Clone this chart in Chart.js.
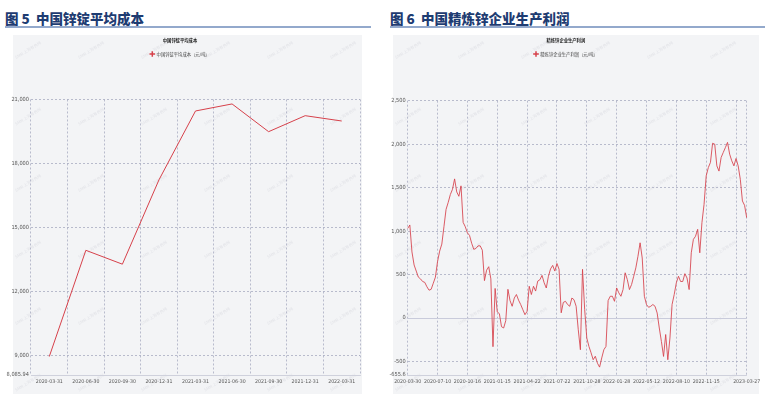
<!DOCTYPE html>
<html>
<head>
<meta charset="utf-8">
<script src="https://cdn.jsdelivr.net/npm/chart.js@4.4.1/dist/chart.umd.min.js"></script>
<style>
  body { margin: 0; width: 777px; height: 394px; position: relative; overflow: hidden; background: #fff; }
  .head { position: absolute; top: 10px; font: 900 13.5px "Noto Sans CJK SC"; line-height: 16px; color: #1e3c72; white-space: pre; }
  .rule { position: absolute; top: 26px; height: 1.5px; background: #93a9cc; }
  .panel { position: absolute; top: 35px; height: 359px; background: #f3f4f6; }
  canvas { position: absolute; top: 35px; }
</style>
</head>
<body>
<div class="head" style="left:5px">图 5  中国锌锭平均成本</div>
<div class="rule" style="left:5px;width:366px"></div>
<div class="head" style="left:390px">图 6  中国精炼锌企业生产利润</div>
<div class="rule" style="left:390px;width:375px"></div>
<div class="panel" style="left:13px;width:349px"></div>
<div class="panel" style="left:393px;width:366px"></div>
<canvas id="cost" width="385" height="359" style="left:0"></canvas>
<canvas id="profit" width="380" height="359" style="left:385px"></canvas>
<script>
// 中国锌锭平均成本 (quarterly)
const costDates = ["2020-03-31", "2020-06-30", "2020-09-30", "2020-12-31", "2021-03-31",
  "2021-06-30", "2021-09-30", "2021-12-31", "2022-03-31"];
const costValues = [8950, 13930, 13280, 17230, 20460, 20790, 19490, 20240, 19990];
const costTicks = [8085.94, 9000, 12000, 15000, 18000, 21000];

// 精炼锌企业生产利润 (about one value a week)
const profitValues = [
  1030, 1070, 760, 610, 540, 470, 450, 420, 410, 360, 320, 330, 400, 470,
  650, 770, 850, 1050, 1250, 1330, 1420, 1480, 1600, 1450, 1400, 1520, 1100, 1050,
  980, 950, 860, 790, 800, 830, 830, 780, 430, 550, 590, 450, -330, 340,
  70, 50, -100, -115, -30, 330, 200, 135, 230, 270, 205, 155, 96, 38,
  77, 365, 270, 365, 310, 425, 440, 490, 405, 345, 480, 565, 605, 540,
  627, 560, 60, 180, 192, 155, 135, 230, 210, 135, -135, -365, 560, 100,
  -230, -327, -400, -480, -440, -520, -565, -460, -365, -327, 200, 250, 250, 192,
  346, 290, 250, 327, 520, 442, 327, 385, 480, 577, 710, 865, 690, 250,
  155, 123, 135, 155, 135, 58, -115, -270, -442, -190, -480, -230, 155, 270,
  405, 480, 420, 420, 510, 460, 327, 750, 905, 940, 1020, 750, 1096, 1308,
  1635, 1730, 1790, 2010, 2000, 1750, 1690, 1846, 1904, 1960, 2020, 1885, 1808, 1750,
  1835, 1750, 1596, 1346, 1296, 1154
];
const profitTicks = [-655.6, -500, 0, 500, 1000, 1500, 2000, 2500];
const profitTickLabels = ["2020-03-30", "2020-07-10", "2020-10-16", "2021-01-15", "2021-04-22",
  "2021-07-22", "2021-10-28", "2022-01-28", "2022-05-12", "2022-08-10", "2022-11-15", "", "2023-03-27"];
const profitTickIndex = [0, 14, 28, 42, 56, 70, 84, 98, 112, 126, 140, 154, 159];

const red = "#d6404a";
const gridColor = "#a9acc2";
const cjk = '"Noto Sans CJK SC", sans-serif';
const narrow = '"Liberation Sans Narrow", "DejaVu Sans Condensed", sans-serif';
const xFont = { family: narrow, size: 5.2 };
const yFont = { family: narrow, size: 5.6 };

const profitLabels = profitValues.map(() => "");
profitTickIndex.forEach((idx, i) => { profitLabels[idx] = profitTickLabels[i]; });

const fmt = v => v.toLocaleString("en-US");

// faint "SMM 上海有色网" stamps behind the plot
const watermark = {
  id: "watermark",
  beforeDraw(chart, args, opts) {
    const ctx = chart.ctx;
    ctx.save();
    ctx.font = '4px "Noto Sans CJK SC"';
    ctx.fillStyle = "rgba(110,110,130,0.13)";
    ctx.textAlign = "center";
    for (let y = 15; y < chart.height; y += 66.5) {
      for (let x = opts.x0; x < chart.width - 20; x += 63) {
        ctx.save();
        ctx.translate(x, y);
        ctx.rotate(-0.55);
        ctx.fillText("SMM 上海有色网", 0, 0);
        ctx.restore();
      }
    }
    ctx.restore();
  }
};

// solid zero line
const zeroLine = {
  id: "zeroLine",
  beforeDatasetsDraw(chart) {
    const { ctx, chartArea, scales } = chart;
    const y = Math.round(scales.y.getPixelForValue(0)) + 0.5;
    ctx.save();
    ctx.strokeStyle = "#c9cbdb";
    ctx.lineWidth = 1;
    ctx.beginPath();
    ctx.moveTo(chartArea.left, y);
    ctx.lineTo(chartArea.right, y);
    ctx.stroke();
    ctx.restore();
  }
};

function makeOptions(o) {
  return {
    responsive: false,
    animation: false,
    layout: { padding: { left: 0, right: o.right, top: 0, bottom: 0 } },
    plugins: {
      title: {
        display: true, text: o.title, color: "#222",
        font: { family: cjk, size: 4.3, weight: "bold" },
        padding: { top: 3, bottom: 2 }
      },
      legend: {
        labels: {
          usePointStyle: true, boxHeight: 4, padding: 6.7, color: "#444",
          font: { family: cjk, size: 4.3 },
          generateLabels: chart => Chart.defaults.plugins.legend.labels.generateLabels(chart)
            .map(l => Object.assign(l, { lineWidth: 1.5, strokeStyle: red, pointStyle: "cross" }))
        }
      },
      // empty subtitle under the legend, only used as a gap
      subtitle: { display: true, text: "", weight: 900, font: { size: 1 }, padding: { top: o.gap - 1.2, bottom: 0 } },
      tooltip: { enabled: false },
      watermark: { x0: o.wmX }
    },
    scales: {
      x: {
        offset: o.offset,
        grid: { offset: o.offset, color: gridColor, lineWidth: 0.8, drawTicks: false },
        border: { display: true, color: "#cfd1dc", dash: [2, 2] },
        ticks: { font: xFont, color: "#555", padding: 4, maxRotation: 0, minRotation: 0, autoSkip: false },
        afterBuildTicks: o.xTicks,
        afterFit: s => { s.height = 19; }
      },
      y: {
        min: o.yTicks[0],
        max: o.yTicks[o.yTicks.length - 1],
        grid: {
          color: c => (c.tick && (c.tick.value === o.yTicks[0] || c.tick.value === 0)) ? "transparent" : gridColor,
          lineWidth: 0.8, drawTicks: false
        },
        border: { display: false, dash: [2, 2] },
        ticks: { font: yFont, color: "#555", padding: 2, callback: v => fmt(v) },
        afterBuildTicks: s => { s.ticks = o.yTicks.map(v => ({ value: v })); },
        afterFit: s => { s.width = o.yWidth; }
      }
    }
  };
}

new Chart(document.getElementById("cost"), {
  type: "line",
  data: {
    labels: costDates,
    datasets: [{
      label: "中国锌锭平均成本（元/吨）",
      data: costValues,
      borderColor: red,
      backgroundColor: red,
      borderWidth: 1,
      pointRadius: 0,
      pointStyle: "cross",
      tension: 0
    }]
  },
  options: makeOptions({
    title: "中国锌锭平均成本", yTicks: costTicks, yWidth: 31, right: 25, gap: 33.3,
    offset: true, wmX: 28
  }),
  plugins: [watermark]
});

new Chart(document.getElementById("profit"), {
  type: "line",
  data: {
    labels: profitLabels,
    datasets: [{
      label: "精炼锌企业生产利润（元/吨）",
      data: profitValues,
      borderColor: "rgba(214,64,74,0.85)",
      backgroundColor: red,
      borderWidth: 1,
      pointRadius: 0,
      pointStyle: "cross",
      tension: 0
    }]
  },
  options: makeOptions({
    title: "精炼锌企业生产利润", yTicks: profitTicks, yWidth: 22.7, right: 18.3, gap: 34.5,
    offset: false, wmX: 23,
    xTicks: s => { s.ticks = s.ticks.filter(t => profitTickIndex.includes(t.value)); }
  }),
  plugins: [watermark, zeroLine]
});
</script>
</body>
</html>
